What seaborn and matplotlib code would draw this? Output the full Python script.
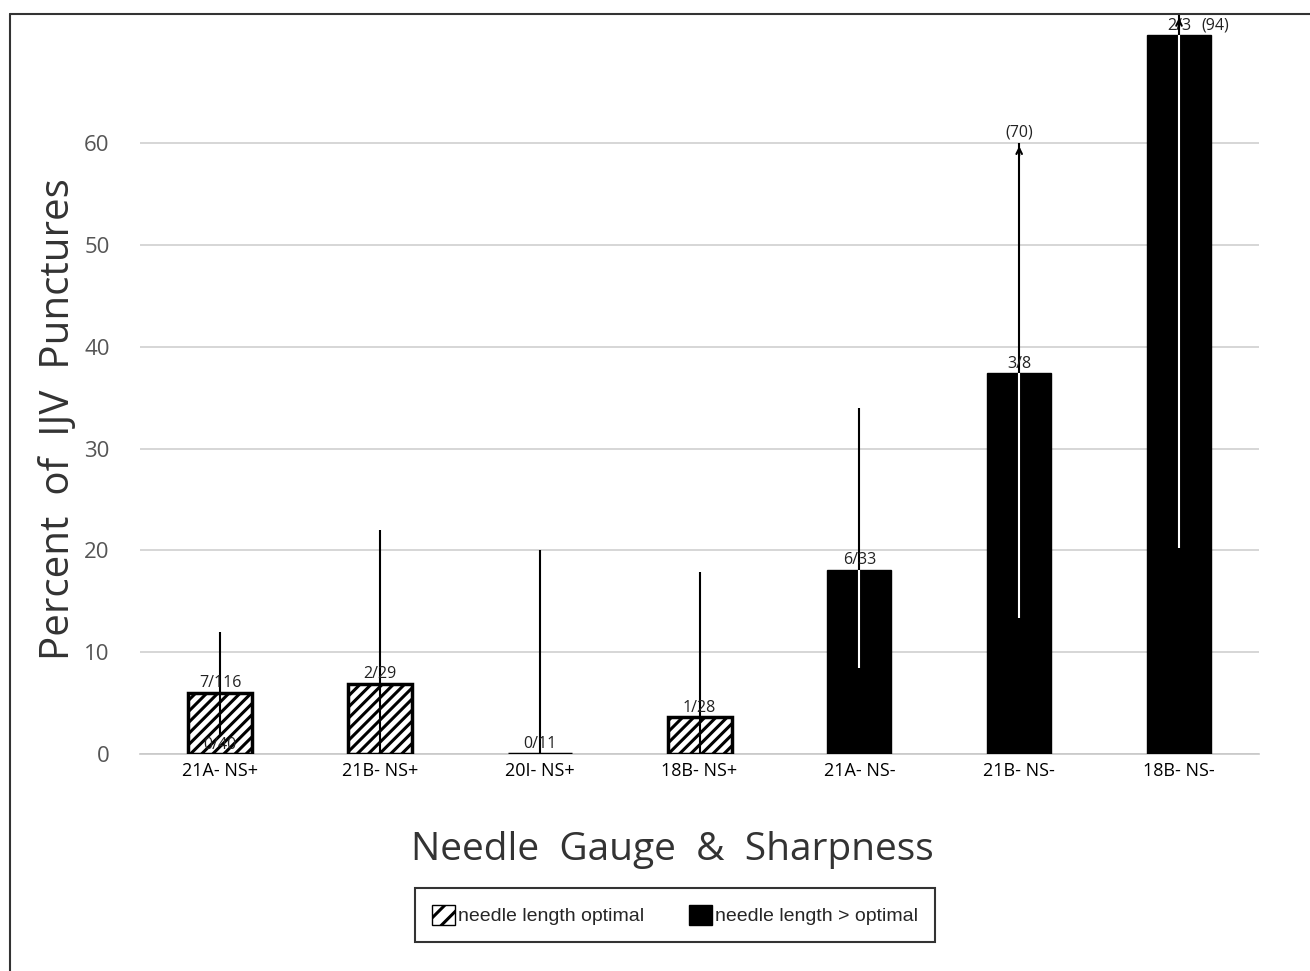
import numpy as np
import pandas as pd
import matplotlib
matplotlib.use("Agg")
import matplotlib.pyplot as plt
import seaborn as sns
from matplotlib.patches import Patch
from matplotlib.lines import Line2D

# --- data --- #
categories = ["21A- NS+", "21B- NS+", "20I- NS+", "18B- NS+", "21A- NS-", "21B- NS-", "18B- NS-"]
groups = ["optimal", "optimal", "optimal", "optimal", "long", "long", "long"]
percent = [6.0, 6.9, 0.0, 3.6, 18.1, 37.4, 70.6]
ci_low = [1.7, 0.0, 0.0, 0.0, 8.4, 13.4, 20.2]
ci_high = [12.0, 22.0, 20.0, 17.9, 34.0, 60.0, 72.6]
counts = ["7/116", "2/29", "0/11", "1/28", "6/33", "3/8", "2/3"]
clipped = {5: "(70)", 6: "(94)"}
y_ticks = [0, 10, 20, 30, 40, 50, 60]

df = pd.DataFrame({"cat": categories, "pct": percent, "grp": groups})

# --- style --- #
sns.set_style("white")
plt.rcParams["font.family"] = ["Open Sans", "DejaVu Sans"]
plt.rcParams["hatch.linewidth"] = 2.2

fig = plt.figure(figsize=(13.1, 9.71), dpi=100)
ax = fig.add_axes([0.107, 0.2235, 0.854, 0.762])

sns.barplot(data=df, x="cat", y="pct", hue="grp", dodge=False, width=0.4,
            palette={"optimal": "white", "long": "black"}, legend=False, ax=ax)

# hatch the "optimal" bars #
for bar in ax.patches:
    idx = int(round(bar.get_x() + bar.get_width() / 2))
    if groups[idx] == "optimal":
        bar.set_facecolor("white")
        bar.set_edgecolor("black")
        bar.set_hatch("///")
        bar.set_linewidth(2.5)
    else:
        bar.set_facecolor("black")
        bar.set_edgecolor("black")
    bar.set_zorder(2.8)

# error lines (no caps) #
for i in range(len(categories)):
    inner = "white" if groups[i] == "long" else "black"
    ax.vlines(i, ci_low[i], percent[i], color=inner, lw=1.5, zorder=3)
    ax.vlines(i, percent[i], ci_high[i], color="black", lw=1.5, zorder=3)
    ax.text(i, percent[i] + 0.15, counts[i], ha="center", va="bottom",
            fontsize=11.5, color="#222222", zorder=4)
    if i in clipped:
        ax.annotate("", xy=(i, ci_high[i]), xytext=(i, ci_high[i] - 1.5),
                    arrowprops=dict(arrowstyle="->", lw=1.5, color="black"), zorder=4)

ax.text(5, 60.3, clipped[5], ha="center", va="bottom", fontsize=11.5, color="#222222")
ax.text(6.14, 71.6, clipped[6], ha="left", va="center", fontsize=11.5, color="#222222")
ax.text(0, 0.1, "0/40", ha="center", va="bottom", fontsize=11.5, color="#222222", zorder=4)

# axes #
ax.set_xlim(-0.5, 6.5)
ax.set_ylim(0, 72.7)
ax.set_yticks(y_ticks)
ax.yaxis.grid(True, color="#d0d0d0", lw=1.2)
ax.set_axisbelow(True)
for s in ["top", "right", "left"]:
    ax.spines[s].set_visible(False)
ax.spines["bottom"].set_color("#c8c8c8")
ax.spines["bottom"].set_linewidth(1.2)
ax.tick_params(axis="y", length=0, labelsize=16, labelcolor="#555555", pad=22)
ax.tick_params(axis="x", length=0, labelsize=13, labelcolor="black", pad=6)
ax.set_xticks(np.arange(-0.5, 7, 1), minor=True)
ax.tick_params(axis="x", which="minor", length=8, color="#c8c8c8", width=1.2)

ax.set_xlabel("Needle  Gauge  &  Sharpness", fontsize=28, color="#333333")
ax.xaxis.set_label_coords(0.476, -0.13)
ax.xaxis.label.set_va("center")
ax.set_ylabel("Percent  of  IJV  Punctures", fontsize=29, color="#333333")
ax.yaxis.set_label_coords(-0.073, 0.453)
ax.yaxis.label.set_va("center")

# legend box #
handles = [Patch(facecolor="white", edgecolor="black", hatch="//", lw=1.0, label="needle length optimal"),
           Patch(facecolor="black", edgecolor="black", label="needle length > optimal")]
leg = fig.legend(handles=handles, loc="center", bbox_to_anchor=(675 / 1310, 1 - 915 / 971), ncol=2,
                 frameon=True, fancybox=False, edgecolor="black", columnspacing=2.3,
                 handlelength=1.2, handleheight=1.2, handletextpad=0.15, borderpad=0.85,
                 prop={"family": "Liberation Sans", "size": 14})
leg.get_frame().set_linewidth(1.5)

# outer frame (left and top edges) #
fig.add_artist(Line2D([10 / 1310, 10 / 1310], [0, 1 - 14 / 971], color="#333333", lw=1.5))
fig.add_artist(Line2D([10 / 1310, 1], [1 - 14 / 971, 1 - 14 / 971], color="#333333", lw=1.5))

fig.savefig("out.png", dpi=100)
